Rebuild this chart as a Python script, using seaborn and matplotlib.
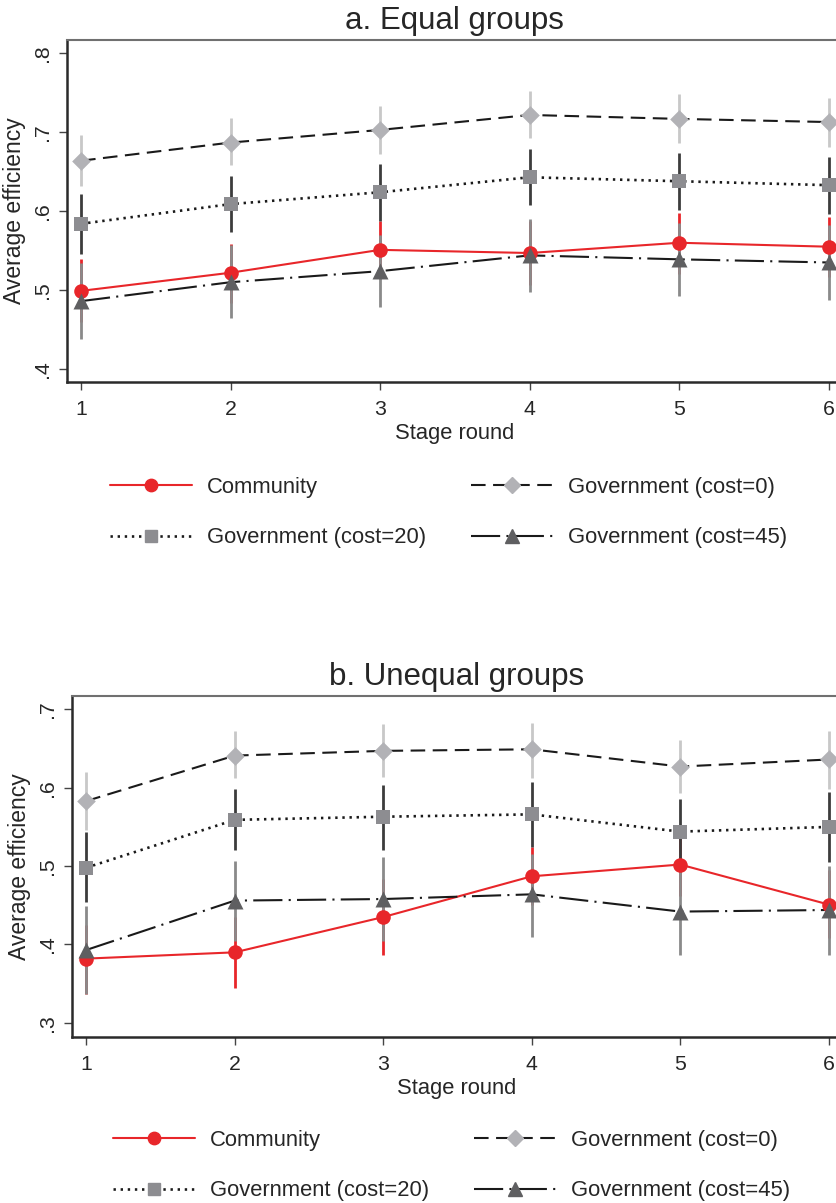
import numpy as np
import pandas as pd
import matplotlib
matplotlib.use("Agg")
import matplotlib.pyplot as plt
import seaborn as sns
from matplotlib.lines import Line2D

stage = [1, 2, 3, 4, 5, 6]

# Panel a: Equal groups
a_comm = [0.499, 0.522, 0.551, 0.547, 0.560, 0.555]
a_comm_lo = [0.459, 0.484, 0.514, 0.507, 0.521, 0.517]
a_comm_hi = [0.539, 0.559, 0.587, 0.587, 0.598, 0.593]
a_g0 = [0.664, 0.687, 0.703, 0.722, 0.717, 0.713]
a_g0_lo = [0.632, 0.658, 0.672, 0.693, 0.686, 0.681]
a_g0_hi = [0.696, 0.718, 0.733, 0.752, 0.748, 0.743]
a_g20 = [0.584, 0.609, 0.624, 0.643, 0.638, 0.633]
a_g20_lo = [0.546, 0.573, 0.588, 0.608, 0.601, 0.596]
a_g20_hi = [0.622, 0.645, 0.660, 0.679, 0.674, 0.669]
a_g45 = [0.486, 0.510, 0.524, 0.544, 0.539, 0.535]
a_g45_lo = [0.438, 0.464, 0.478, 0.498, 0.492, 0.487]
a_g45_hi = [0.534, 0.557, 0.570, 0.590, 0.585, 0.582]

# Panel b: Unequal groups
b_comm = [0.382, 0.390, 0.435, 0.487, 0.502, 0.451]
b_comm_lo = [0.337, 0.345, 0.387, 0.450, 0.462, 0.408]
b_comm_hi = [0.425, 0.435, 0.483, 0.524, 0.542, 0.495]
b_g0 = [0.583, 0.641, 0.647, 0.649, 0.627, 0.636]
b_g0_lo = [0.546, 0.612, 0.614, 0.613, 0.593, 0.599]
b_g0_hi = [0.620, 0.672, 0.681, 0.683, 0.661, 0.672]
b_g20 = [0.498, 0.559, 0.563, 0.566, 0.544, 0.550]
b_g20_lo = [0.454, 0.521, 0.521, 0.525, 0.502, 0.505]
b_g20_hi = [0.544, 0.598, 0.604, 0.607, 0.586, 0.594]
b_g45 = [0.393, 0.456, 0.458, 0.464, 0.442, 0.444]
b_g45_lo = [0.337, 0.405, 0.405, 0.410, 0.386, 0.386]
b_g45_hi = [0.449, 0.507, 0.511, 0.515, 0.495, 0.500]

labels = ["Community", "Government (cost=0)", "Government (cost=20)", "Government (cost=45)"]
a_yticks = [0.4, 0.5, 0.6, 0.7, 0.8]
a_yticklabels = [".4", ".5", ".6", ".7", ".8"]
b_yticks = [0.3, 0.4, 0.5, 0.6, 0.7]
b_yticklabels = [".3", ".4", ".5", ".6", ".7"]

sns.set_theme(style="white")
plt.rcParams['font.family'] = ['Liberation Sans', 'DejaVu Sans']

W, H = 836, 1203
fig = plt.figure(figsize=(W / 100, H / 100), dpi=100)

RED = "#e8262a"
styles = [
    dict(color=RED, ls="-", lw=1.5, marker="o", mfc=RED, ms=10.5, ci=RED),
    dict(color="#1a1a1a", ls=(0, (7, 3.6)), lw=1.5, marker="D", mfc="#b2b2b6", ms=9.5, ci="#c8c8c8"),
    dict(color="#1a1a1a", ls=(0, (0.9, 1.8)), lw=1.9, marker="s", mfc="#8d8d91", ms=10.5, ci="#3c3c3c"),
    dict(color="#1a1a1a", ls=(0, (14, 3, 1, 3)), lw=1.5, marker="^", mfc="#5f5f61", ms=11.5, ci="#8a8a8a"),
]


def panel(rect, series, ylim, yticks, yticklabels, xlim, title, leg_xy):
    ax = fig.add_axes(rect)
    # confidence intervals
    for (m, lo, hi), st in zip(series, styles):
        ax.vlines(stage, lo, hi, color=st["ci"], lw=2.0, zorder=2)
    handles = []
    for (m, lo, hi), st, lab in zip(series, styles, labels):
        df = pd.DataFrame({"stage": stage, "eff": m})
        sns.lineplot(data=df, x="stage", y="eff", ax=ax, color=st["color"],
                     linestyle=st["ls"], lw=st["lw"], zorder=3)
        sns.scatterplot(data=df, x="stage", y="eff", ax=ax, color=st["mfc"],
                        marker=st["marker"], s=st["ms"] ** 2, linewidth=0, zorder=4)
        handles.append(Line2D([0], [0], color=st["color"], ls=st["ls"], lw=st["lw"],
                              marker=st["marker"], mfc=st["mfc"], mec=st["mfc"],
                              ms=st["ms"] * 0.85))
    ax.set_xlim(*xlim)
    ax.set_ylim(*ylim)
    ax.set_xticks(stage)
    ax.set_xticklabels([str(s) for s in stage], fontsize=15.3)
    ax.set_yticks(yticks)
    ax.set_yticklabels(yticklabels, fontsize=15.3, rotation=90, va="center")
    ax.set_xlabel("Stage round", fontsize=15.8, labelpad=3)
    ax.set_ylabel("Average efficiency", fontsize=16.5, labelpad=5)
    ax.set_title(title, fontsize=22.5, pad=8)
    ax.tick_params(axis="x", pad=7)
    ax.tick_params(axis="y", pad=5)
    ax.tick_params(axis="both", direction="out", length=6, width=1.0,
                   color="#444444", bottom=True, left=True)
    for sp in ["left", "bottom"]:
        ax.spines[sp].set_color("#2a2a2a")
        ax.spines[sp].set_linewidth(1.8)
    ax.spines["top"].set_color("#707070")
    ax.spines["top"].set_linewidth(1.5)
    ax.spines["right"].set_visible(False)
    order = [0, 2, 1, 3]
    ax.legend([handles[i] for i in order], [labels[i] for i in order],
              loc="upper left", bbox_to_anchor=(leg_xy[0] / W, 1 - leg_xy[1] / H),
              bbox_transform=fig.transFigure, ncol=2, frameon=False,
              fontsize=15.8, handlelength=3.74, handletextpad=0.68,
              columnspacing=2.05, labelspacing=1.34, borderpad=0,
              borderaxespad=0, numpoints=1)
    return ax


# Panel a
a_series = [(a_comm, a_comm_lo, a_comm_hi), (a_g0, a_g0_lo, a_g0_hi),
            (a_g20, a_g20_lo, a_g20_hi), (a_g45, a_g45_lo, a_g45_hi)]
panel([67 / W, 1 - 382 / H, (842 - 67) / W, (382 - 40) / H], a_series,
      (0.3835, 0.817), a_yticks, a_yticklabels, (0.906, 6.09),
      "a. Equal groups", (110, 477))

# Panel b
b_series = [(b_comm, b_comm_lo, b_comm_hi), (b_g0, b_g0_lo, b_g0_hi),
            (b_g20, b_g20_lo, b_g20_hi), (b_g45, b_g45_lo, b_g45_hi)]
panel([72 / W, 1 - 1037 / H, (842 - 72) / W, (1037 - 696) / H], b_series,
      (0.282, 0.717), b_yticks, b_yticklabels, (0.904, 6.09),
      "b. Unequal groups", (113, 1130))

fig.savefig("out.png", dpi=100, facecolor="white")
